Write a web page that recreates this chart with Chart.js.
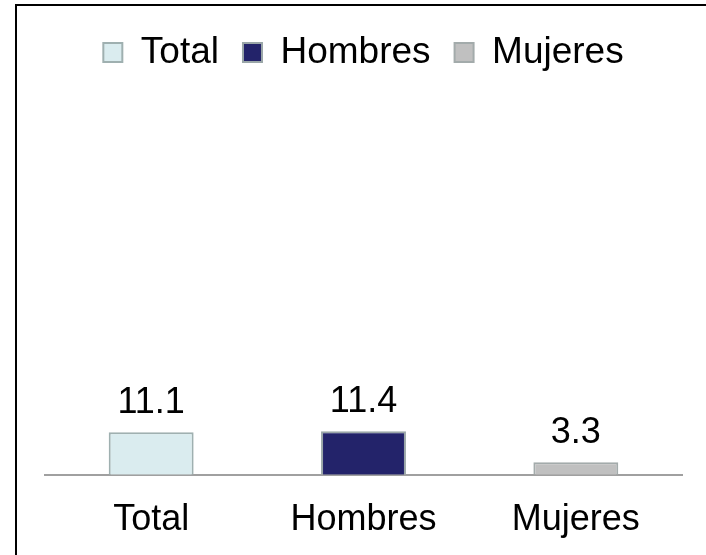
<!DOCTYPE html>
<html>
<head>
<meta charset="utf-8">
<script src="https://cdn.jsdelivr.net/npm/chart.js@4"></script>
<style>
    html, body { margin: 0; padding: 0; background: #ffffff; overflow: hidden; }
    #wrap { position: relative; width: 706px; height: 555px; overflow: hidden; }
    #frame {
        position: absolute; left: 15px; top: 4px; width: 720px; height: 580px;
        border-left: 2px solid #000; border-top: 2px solid #000;
    }
    #chartCanvas { position: absolute; left: 0; top: 0; }
</style>
</head>
<body>
<div id="wrap">
    <div id="frame"></div>
    <canvas id="chartCanvas" width="706" height="555"></canvas>
</div>
<script>
const categories = ['Total', 'Hombres', 'Mujeres'];
const values = [11.1, 11.4, 3.3];
const yMax = 103;

const fillColors = ['#daecef', '#23236a', '#c0c0c0'];
const borderColors = ['#9fb0b0', '#9aa6a8', '#a3abab'];
const fontFamily = '"Liberation Sans", Arial, sans-serif';

document.addEventListener('DOMContentLoaded', function () {
    renderChart();
});

// writes the value above each bar
const valueLabels = {
    id: 'valueLabels',
    afterDatasetsDraw(chart) {
        const ctx = chart.ctx;
        const meta = chart.getDatasetMeta(0);
        ctx.save();
        ctx.font = '36px ' + fontFamily;
        ctx.fillStyle = '#000000';
        ctx.textAlign = 'center';
        ctx.textBaseline = 'alphabetic';
        meta.data.forEach((bar, i) => {
            ctx.fillText(values[i].toFixed(1), bar.x, bar.y - 19);
        });
        ctx.restore();
    }
};

function renderChart() {
    const ctx = document.getElementById('chartCanvas').getContext('2d');

    new Chart(ctx, {
        type: 'bar',
        data: {
            labels: categories,
            datasets: [{
                label: 'Serie',
                data: values,
                backgroundColor: fillColors,
                borderColor: borderColors,
                borderWidth: 2,
                borderSkipped: 'bottom',
                categoryPercentage: 1,
                barPercentage: 0.4
            }]
        },
        options: {
            responsive: false,
            animation: false,
            layout: {
                padding: { top: 10, left: 45, right: 24, bottom: -11 }
            },
            plugins: {
                tooltip: { enabled: false },
                legend: {
                    position: 'top',
                    labels: {
                        boxWidth: 19,
                        boxHeight: 19,
                        padding: 24,
                        color: '#000000',
                        font: { size: 37, family: fontFamily },
                        generateLabels: function () {
                            return categories.map((c, i) => ({
                                text: c,
                                fillStyle: fillColors[i],
                                strokeStyle: borderColors[i],
                                lineWidth: 2,
                                hidden: false,
                                index: i,
                                fontColor: '#000000'
                            }));
                        }
                    }
                }
            },
            scales: {
                x: {
                    grid: { display: false, drawTicks: false },
                    border: { display: true, color: '#a0a0a0', width: 2 },
                    ticks: {
                        color: '#000000',
                        padding: 24,
                        font: { size: 36, family: fontFamily }
                    }
                },
                y: {
                    display: false,
                    min: 0,
                    max: yMax
                }
            }
        },
        plugins: [valueLabels]
    });
}
</script>
</body>
</html>
